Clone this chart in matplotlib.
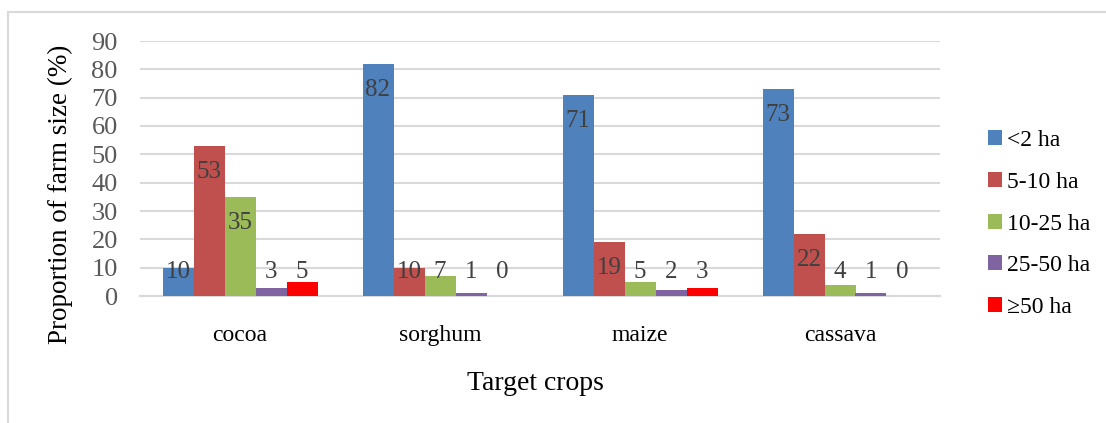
import matplotlib
matplotlib.use("Agg")
import matplotlib.pyplot as plt
from matplotlib.patches import Rectangle, Patch
import numpy as np

plt.rcParams['font.family'] = ['Liberation Serif', 'DejaVu Serif']

crops = ["cocoa", "sorghum", "maize", "cassava"]
series_names = ["<2 ha", "5-10 ha", "10-25 ha", "25-50 ha", "≥50 ha"]
lt2 = [10, 82, 71, 73]
ha5_10 = [53, 10, 19, 22]
ha10_25 = [35, 7, 5, 4]
ha25_50 = [3, 1, 2, 1]
ge50 = [5, 0, 3, 0]
series = [lt2, ha5_10, ha10_25, ha25_50, ge50]
colors = ["#4F81BD", "#C0504D", "#9BBB59", "#8064A2", "#FF0000"]
yticks = [0, 10, 20, 30, 40, 50, 60, 70, 80, 90]

W, H = 1106, 423
fig = plt.figure(figsize=(W / 100, H / 100), dpi=100)

# outer chart border
fig.patches.append(Rectangle((8 / W, -0.05), 1.2, (H - 12) / H + 0.05, transform=fig.transFigure,
                             fill=False, edgecolor="#D9D9D9", linewidth=1.5))

ax = fig.add_axes([140 / W, (H - 296) / H, 800 / W, 255 / H])
x = np.arange(len(crops))
bw = 0.155
for i, (vals, c) in enumerate(zip(series, colors)):
    xs = x + (i - 2) * bw
    ax.bar(xs, vals, width=bw, color=c, zorder=3)
    for xi, v in zip(xs, vals):
        ax.text(xi, max(v - 9.2, 8.5), str(v), ha="center", va="center",
                fontsize=18, color="#404040", zorder=4)

ax.set_xlim(-0.5, 3.5)
ax.set_ylim(0, 90)
ax.set_yticks(yticks)
ax.set_yticklabels([str(t) for t in yticks])
ax.set_xticks(x)
ax.set_xticklabels(crops)
ax.tick_params(axis="y", length=0, pad=16, labelsize=19, labelcolor="#595959")
ax.tick_params(axis="x", length=0, pad=21, labelsize=17, labelcolor="black")
ax.grid(axis="y", color="#D9D9D9", linewidth=1.5, zorder=0)
for s in ["left", "right", "top"]:
    ax.spines[s].set_visible(False)
ax.spines["bottom"].set_color("#D9D9D9")
ax.spines["bottom"].set_linewidth(1.5)

fig.text(60 / W, 1 - 194 / H, "Proportion of farm size (%)", rotation=90,
         ha="center", va="center", fontsize=19.5)
fig.text(535 / W, 1 - 383 / H, "Target crops", ha="center", va="center", fontsize=20)

handles = [Patch(facecolor=c) for c in colors]
leg = fig.legend(handles, series_names, loc="center left",
                 bbox_to_anchor=(967 / W, 1 - 224 / H), frameon=False,
                 fontsize=17, handlelength=0.6, handleheight=0.6,
                 handletextpad=0.2, labelspacing=0.88)

fig.savefig("out.png", dpi=100)
